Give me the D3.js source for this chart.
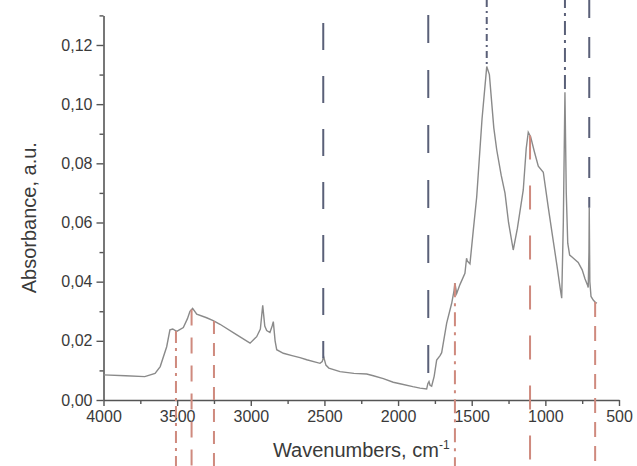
<!DOCTYPE html>
<html><head><meta charset="utf-8">
<script src="https://cdn.jsdelivr.net/npm/d3@7"></script>
<style>body{margin:0;background:#fff;} svg text{font-family:"Liberation Sans",Arial,sans-serif;}</style>
</head><body><svg id="c" width="637" height="466"></svg>
<script>
const wavenumbers=[4000,3850,3720,3650,3615,3571,3549,3530,3503,3458,3430,3413,3395,3367,3300,3255,3209,3100,3005,2960,2935,2919,2905,2892,2870,2855,2847,2835,2824,2779,2720,2666,2620,2530,2515,2505,2490,2470,2394,2300,2213,2168,2100,2033,1987,1900,1851,1806,1798,1790,1783,1772,1755,1738,1715,1704,1670,1636,1620,1614,1602,1580,1546,1535,1530,1512,1489,1466,1430,1398,1380,1350,1330,1300,1274,1250,1218,1190,1150,1130,1116,1100,1075,1048,1014,980,950,920,900,889,878,867,858,848,835,821,800,777,750,731,715,709,704,702,698,690,675,660,650];
const absorbance=[0.0085,0.0082,0.0079,0.0090,0.0113,0.0180,0.0237,0.0240,0.0232,0.0245,0.0275,0.0300,0.0310,0.0290,0.0278,0.0268,0.0256,0.0222,0.0192,0.0214,0.0240,0.0320,0.0250,0.0235,0.0228,0.0250,0.0265,0.0200,0.0170,0.0158,0.0150,0.0143,0.0136,0.0124,0.0130,0.0146,0.0118,0.0108,0.0096,0.0090,0.0088,0.0082,0.0072,0.0060,0.0055,0.0045,0.0040,0.0037,0.0055,0.0062,0.0050,0.0047,0.0080,0.0135,0.0150,0.0160,0.0260,0.0327,0.0370,0.0395,0.0360,0.0390,0.0428,0.0479,0.0470,0.0460,0.0575,0.0687,0.0950,0.1127,0.1100,0.0920,0.0845,0.0760,0.0699,0.0600,0.0507,0.0580,0.0710,0.0850,0.0905,0.0890,0.0840,0.0790,0.0770,0.0650,0.0550,0.0450,0.0380,0.0344,0.0600,0.1040,0.0700,0.0530,0.0490,0.0484,0.0475,0.0465,0.0440,0.0410,0.0390,0.0380,0.0500,0.0650,0.0400,0.0350,0.0338,0.0330,0.0327];
const topBands=[2508,1795,1398,867,702];
const topDash=["27,26","28,27","7,4,2,4","14,5,3,5","21,19"];
const topOffset=[30,40,0,6,3];
const bottomBands=[3508,3402,3250,1614,1104,662];
const bottomDash=["12,5,3,5","16,12","13,9","14,6,3,6","24,26","15,9"];
const xMajor=[4000,3500,3000,2500,2000,1500,1000,500];
const xMinor=[3750,3250,2750,2250,1750,1250,750];
const yMajor=[0,0.02,0.04,0.06,0.08,0.10,0.12];
const yMinor=[0.01,0.03,0.05,0.07,0.09,0.11,0.13];

const W=637,H=466;
const svg=d3.select("#c");
const x=d3.scaleLinear().domain([4000,500]).range([103.5,619]);
const y=d3.scaleLinear().domain([0,0.13]).range([400,15.4]);
const axisColor="#555";
const fmt=d=>d.toFixed(2).replace(".",",");

// axes
svg.append("g").attr("transform",`translate(0,${y(0)})`)
  .call(d3.axisBottom(x).tickValues(xMajor).tickSize(6).tickSizeOuter(0).tickPadding(5).tickFormat(d3.format("d")));
svg.append("g").attr("transform",`translate(0,${y(0)})`)
  .call(d3.axisBottom(x).tickValues(xMinor).tickSize(4).tickSizeOuter(0).tickFormat(""))
  .select(".domain").remove();
svg.append("g").attr("transform",`translate(${x(4000)},0)`)
  .call(d3.axisLeft(y).tickValues(yMajor).tickSize(7).tickSizeOuter(0).tickFormat(fmt).tickPadding(4));
svg.append("g").attr("transform",`translate(${x(4000)},0)`)
  .call(d3.axisLeft(y).tickValues(yMinor).tickSize(4).tickSizeOuter(0).tickFormat(""))
  .select(".domain").remove();
svg.selectAll(".domain").attr("stroke",axisColor).attr("stroke-width",1.6);
svg.selectAll(".tick line").attr("stroke",axisColor).attr("stroke-width",1.4);
svg.selectAll(".tick text").attr("fill","#3a3a3a").style("font-size","16px").style("font-family","'Liberation Sans',Arial,sans-serif");

// spectrum
const pts=wavenumbers.map((w,i)=>[w,absorbance[i]]);
svg.append("path").datum(pts)
  .attr("fill","none").attr("stroke","#8a8a8a").attr("stroke-width",1.4)
  .attr("d",d3.line().x(d=>x(d[0])).y(d=>y(d[1])));

function specAt(w){
  for(let i=0;i<wavenumbers.length-1;i++){
    const a=wavenumbers[i],b=wavenumbers[i+1];
    if(w<=a&&w>=b){const t=(a-w)/(a-b);return absorbance[i]+t*(absorbance[i+1]-absorbance[i]);}
  }
  return absorbance[absorbance.length-1];
}

// top band markers
topBands.forEach((w,i)=>{
  svg.append("line").attr("x1",x(w)).attr("x2",x(w)).attr("y1",0).attr("y2",y(specAt(w)))
    .attr("stroke","#5a6078").attr("stroke-width",2)
    .attr("stroke-dasharray",topDash[i]).attr("stroke-dashoffset",topOffset[i]);
});
// bottom band markers
bottomBands.forEach((w,i)=>{
  svg.append("line").attr("x1",x(w)).attr("x2",x(w)).attr("y1",y(specAt(w))).attr("y2",H)
    .attr("stroke","#cf8a7e").attr("stroke-width",2)
    .attr("stroke-dasharray",bottomDash[i]);
});

// titles
const xt=svg.append("text").attr("x",(x(4000)+x(500))/2).attr("y",457)
  .attr("text-anchor","middle").attr("fill","#3a3a3a").style("font-size","20px");
xt.append("tspan").text("Wavenumbers, cm");
xt.append("tspan").attr("dy",-8).style("font-size","12px").text("-1");
svg.append("text").attr("transform",`translate(36,${(y(0)+y(0.13))/2+10}) rotate(-90)`)
  .attr("text-anchor","middle").attr("fill","#3a3a3a").style("font-size","20px")
  .text("Absorbance, a.u.");
</script></body></html>
